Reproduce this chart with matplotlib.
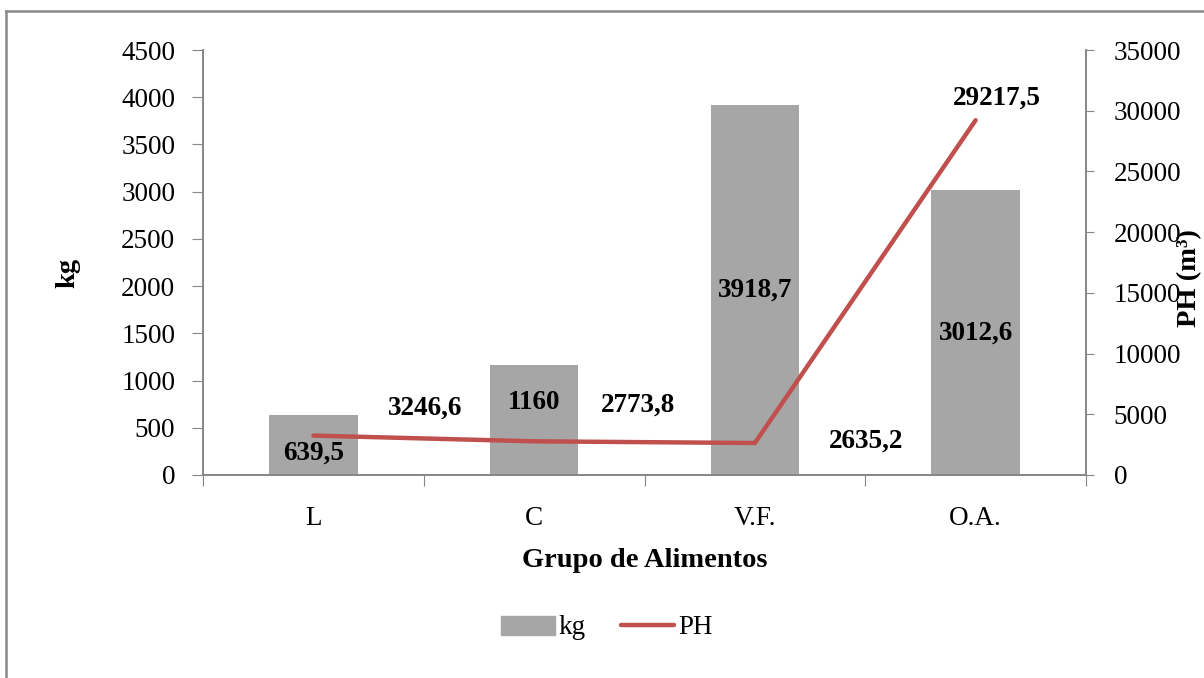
import matplotlib
matplotlib.use('Agg')
import matplotlib.pyplot as plt
from matplotlib.lines import Line2D
import numpy as np

# data
grupos = ['L', 'C', 'V.F.', 'O.A.']
kg = [639.5, 1160, 3918.7, 3012.6]
ph = [3246.6, 2773.8, 2635.2, 29217.5]
kg_labels = ['639,5', '1160', '3918,7', '3012,6']
ph_labels = ['3246,6', '2773,8', '2635,2', '29217,5']

BAR_COLOR = '#A6A6A6'
LINE_COLOR = '#C0504D'
SPINE_COLOR = '#868686'
TICK_FS = 19.5
LABEL_FS = 19.5
TITLE_FS = 20.5

plt.rcParams['font.family'] = ['Liberation Serif', 'DejaVu Serif']

fig = plt.figure(figsize=(12.04, 6.78), dpi=100)
ax = fig.add_axes([203 / 1204, 1 - 475 / 678, (1086 - 203) / 1204, (475 - 50) / 678])
ax2 = ax.twinx()

x = np.arange(len(grupos))
ax.bar(x, kg, width=0.4, color=BAR_COLOR, zorder=2)
ax2.plot(x, ph, color=LINE_COLOR, linewidth=3.2, solid_capstyle='round', zorder=3)

ax.set_xlim(-0.5, len(grupos) - 0.5)
ax.set_ylim(0, 4500)
ax.set_yticks(np.arange(0, 4501, 500))
ax2.set_ylim(0, 35000)
ax2.set_yticks(np.arange(0, 35001, 5000))

# category ticks sit on the boundaries, labels in the middle
ax.set_xticks(np.arange(-0.5, len(grupos), 1.0))
ax.set_xticklabels([])
ax.set_xticks(x, minor=True)
ax.set_xticklabels(grupos, minor=True)
ax.tick_params(axis='x', which='major', direction='out', length=8, color=SPINE_COLOR)
ax.tick_params(axis='x', which='minor', length=0, pad=22, labelsize=TICK_FS)
ax.tick_params(axis='y', direction='out', length=8, color=SPINE_COLOR, pad=12, labelsize=TICK_FS)
ax2.tick_params(axis='y', direction='out', length=6, color=SPINE_COLOR, pad=14, labelsize=TICK_FS)

for a in (ax, ax2):
    a.spines['top'].set_visible(False)
    for s in ('left', 'right', 'bottom'):
        a.spines[s].set_color(SPINE_COLOR)
        a.spines[s].set_linewidth(1.2)

ax.set_xlabel('Grupo de Alimentos', fontsize=TITLE_FS, fontweight='bold')
ax.xaxis.set_label_coords(0.5, -0.172)
ax.set_ylabel('kg', fontsize=TITLE_FS, fontweight='bold', va='center')
ax.yaxis.set_label_coords(-0.153, 0.475)
ax2.set_ylabel('PH (m³)', fontsize=TITLE_FS, fontweight='bold', va='center')
ax2.yaxis.set_label_coords(1.117, 0.464)

# data labels (offsets in pixels, as placed in the original)
kg_off = [(0, -8), (0, 18), (0, 0), (0, 0)]
for xi, v, lab, off in zip(x, kg, kg_labels, kg_off):
    ax.annotate(lab, (xi, v / 2), xytext=off, textcoords='offset pixels',
                ha='center', va='center', fontsize=LABEL_FS, fontweight='bold')
ph_off = [(112, 27), (104, 36), (111, 2), (21, 22)]
for xi, v, lab, off in zip(x, ph, ph_labels, ph_off):
    ax2.annotate(lab, (xi, v), xytext=off, textcoords='offset pixels',
                 ha='center', va='center', fontsize=LABEL_FS, fontweight='bold')

handles = [plt.Rectangle((0, 0), 1, 1, color=BAR_COLOR),
           Line2D([0], [0], color=LINE_COLOR, linewidth=3.2, solid_capstyle='round')]
fig.legend(handles, ['kg', 'PH'], loc='center', bbox_to_anchor=(607 / 1204, 1 - 628 / 678),
           ncol=2, frameon=False, fontsize=LABEL_FS, handlelength=1.96, handletextpad=0.15,
           columnspacing=1.3)

# outer chart border (cut on right and bottom like the reference)
fig.add_artist(Line2D([6 / 1204, 6 / 1204], [0, 1 - 11 / 678], color='#888888', linewidth=1.8))
fig.add_artist(Line2D([6 / 1204, 1], [1 - 11 / 678, 1 - 11 / 678], color='#888888', linewidth=1.8))

fig.savefig('out.png', dpi=100)
